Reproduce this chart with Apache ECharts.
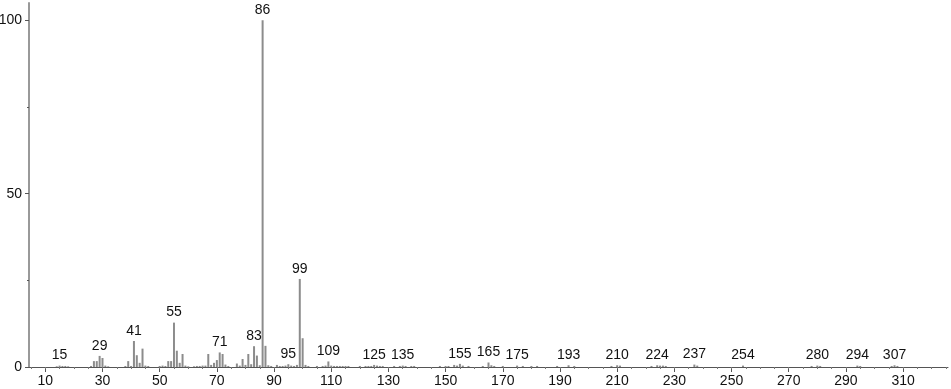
<!DOCTYPE html>
<html>
<head>
<meta charset="utf-8">
<script src="https://cdn.jsdelivr.net/npm/echarts@6/dist/echarts.min.js"></script>
<style>
html,body{margin:0;padding:0;background:#fff;}
#chart{width:951px;height:389px;}
</style>
</head>
<body>
<div id="chart"></div>
<script>
// m/z values of the peaks
const mzValues = [
  14,15,16,17,18,
  26,27,28,29,30,31,32,
  38,39,40,41,42,43,44,45,46,
  50,51,52,53,54,55,56,57,58,59,60,
  62,63,64,65,66,67,68,69,70,71,72,73,74,
  77,78,79,80,81,82,83,84,85,86,87,88,89,
  91,92,93,94,95,96,97,98,99,100,101,102,
  105,107,108,109,110,111,112,113,114,115,116,
  120,122,123,124,125,126,127,128,
  132,134,135,136,138,139,
  148,150,151,153,154,155,156,158,
  163,165,166,167,170,
  175,177,180,182,
  189,193,195,
  208,210,211,
  222,224,225,226,227,
  237,238,
  254,
  278,280,281,
  294,295,
  306,307,308
];
// relative intensities (%)
const intensities = [
  0.2,0.4,0.3,0.3,0.2,
  0.3,1.7,1.7,3.2,2.6,0.4,0.2,
  0.3,1.7,0.3,7.5,3.4,1.2,5.3,0.4,0.3,
  0.3,0.4,0.3,1.7,1.7,12.8,4.7,1.2,3.75,0.4,0.2,
  0.2,0.3,0.3,0.4,0.4,3.75,0.6,1.2,2.0,4.2,3.75,0.7,0.3,
  1.0,0.4,2.3,0.6,3.75,0.8,6.0,3.3,0.5,100,6.1,0.5,0.3,
  0.6,0.3,0.3,0.4,0.8,0.4,0.3,0.6,25.4,8.3,0.6,0.3,
  0.3,0.3,0.4,1.6,0.4,0.3,0.3,0.3,0.3,0.3,0.3,
  0.3,0.3,0.3,0.3,0.6,0.4,0.3,0.3,
  0.3,0.3,0.4,0.3,0.3,0.3,
  0.3,0.3,0.3,0.6,0.4,0.9,0.4,0.3,
  0.3,1.3,0.5,0.3,0.3,
  0.4,0.3,0.3,0.3,
  0.3,0.5,0.3,
  0.3,0.5,0.4,
  0.3,0.5,0.4,0.4,0.3,
  0.7,0.4,
  0.4,
  0.3,0.4,0.3,
  0.4,0.3,
  0.3,0.5,0.3
];
// peaks that carry a m/z label
const labeledMz = [15,29,41,55,71,83,86,95,99,109,125,135,155,165,175,193,210,224,237,254,280,294,307];
// axis tick labels
const xTickLabels = [10,30,50,70,90,110,130,150,170,190,210,230,250,270,290,310];
const xMinorTicks = [];
for (let v = 5; v <= 325; v += 5) xMinorTicks.push(v);
const yTickLabels = [0,50,100];
const yMinorTicks = [25,75];

const FONT = 'Liberation Sans';
const data = mzValues.map((m, i) => {
  const item = { value: [m, intensities[i]] };
  if (labeledMz.indexOf(m) >= 0) item.label = { show: true };
  return item;
});

const chart = echarts.init(document.getElementById('chart'), null, { renderer: 'canvas' });
chart.setOption({
  animation: false,
  backgroundColor: '#fff',
  grid: { left: 29, right: 3, top: 3, bottom: 22, containLabel: false, outerBoundsMode: 'none' },
  xAxis: [{
    type: 'value', min: 4.3, max: 325.7,
    splitLine: { show: false },
    axisLine: { show: true, onZero: false, lineStyle: { color: '#555', width: 1 } },
    axisTick: { show: true, customValues: xTickLabels, length: 5, lineStyle: { color: '#555' } },
    axisLabel: { customValues: xTickLabels, color: '#111', fontFamily: FONT, fontSize: 14, margin: 7 }
  }, {
    type: 'value', min: 4.3, max: 325.7, position: 'bottom',
    splitLine: { show: false },
    axisLine: { show: false },
    axisTick: { show: true, customValues: xMinorTicks, length: 2, lineStyle: { color: '#777' } },
    axisLabel: { show: false }
  }],
  yAxis: [{
    type: 'value', min: 0, max: 105,
    splitLine: { show: false },
    axisLine: { show: true, lineStyle: { color: '#999', width: 2 } },
    axisTick: { show: true, customValues: yTickLabels, length: 4, lineStyle: { color: '#555' } },
    axisLabel: { customValues: yTickLabels, color: '#111', fontFamily: FONT, fontSize: 14, margin: 7 }
  }, {
    type: 'value', min: 0, max: 105, position: 'left',
    splitLine: { show: false },
    axisLine: { show: false },
    axisTick: { show: true, customValues: yMinorTicks, length: 2, lineStyle: { color: '#555' } },
    axisLabel: { show: false }
  }],
  series: [{
    type: 'bar',
    xAxisIndex: 0,
    yAxisIndex: 0,
    barWidth: 2,
    itemStyle: { color: '#8c8c8c' },
    label: {
      show: false, position: 'top', distance: 3,
      color: '#111', fontFamily: FONT, fontSize: 14,
      formatter: p => String(p.value[0])
    },
    data: data
  }]
});
</script>
</body>
</html>
